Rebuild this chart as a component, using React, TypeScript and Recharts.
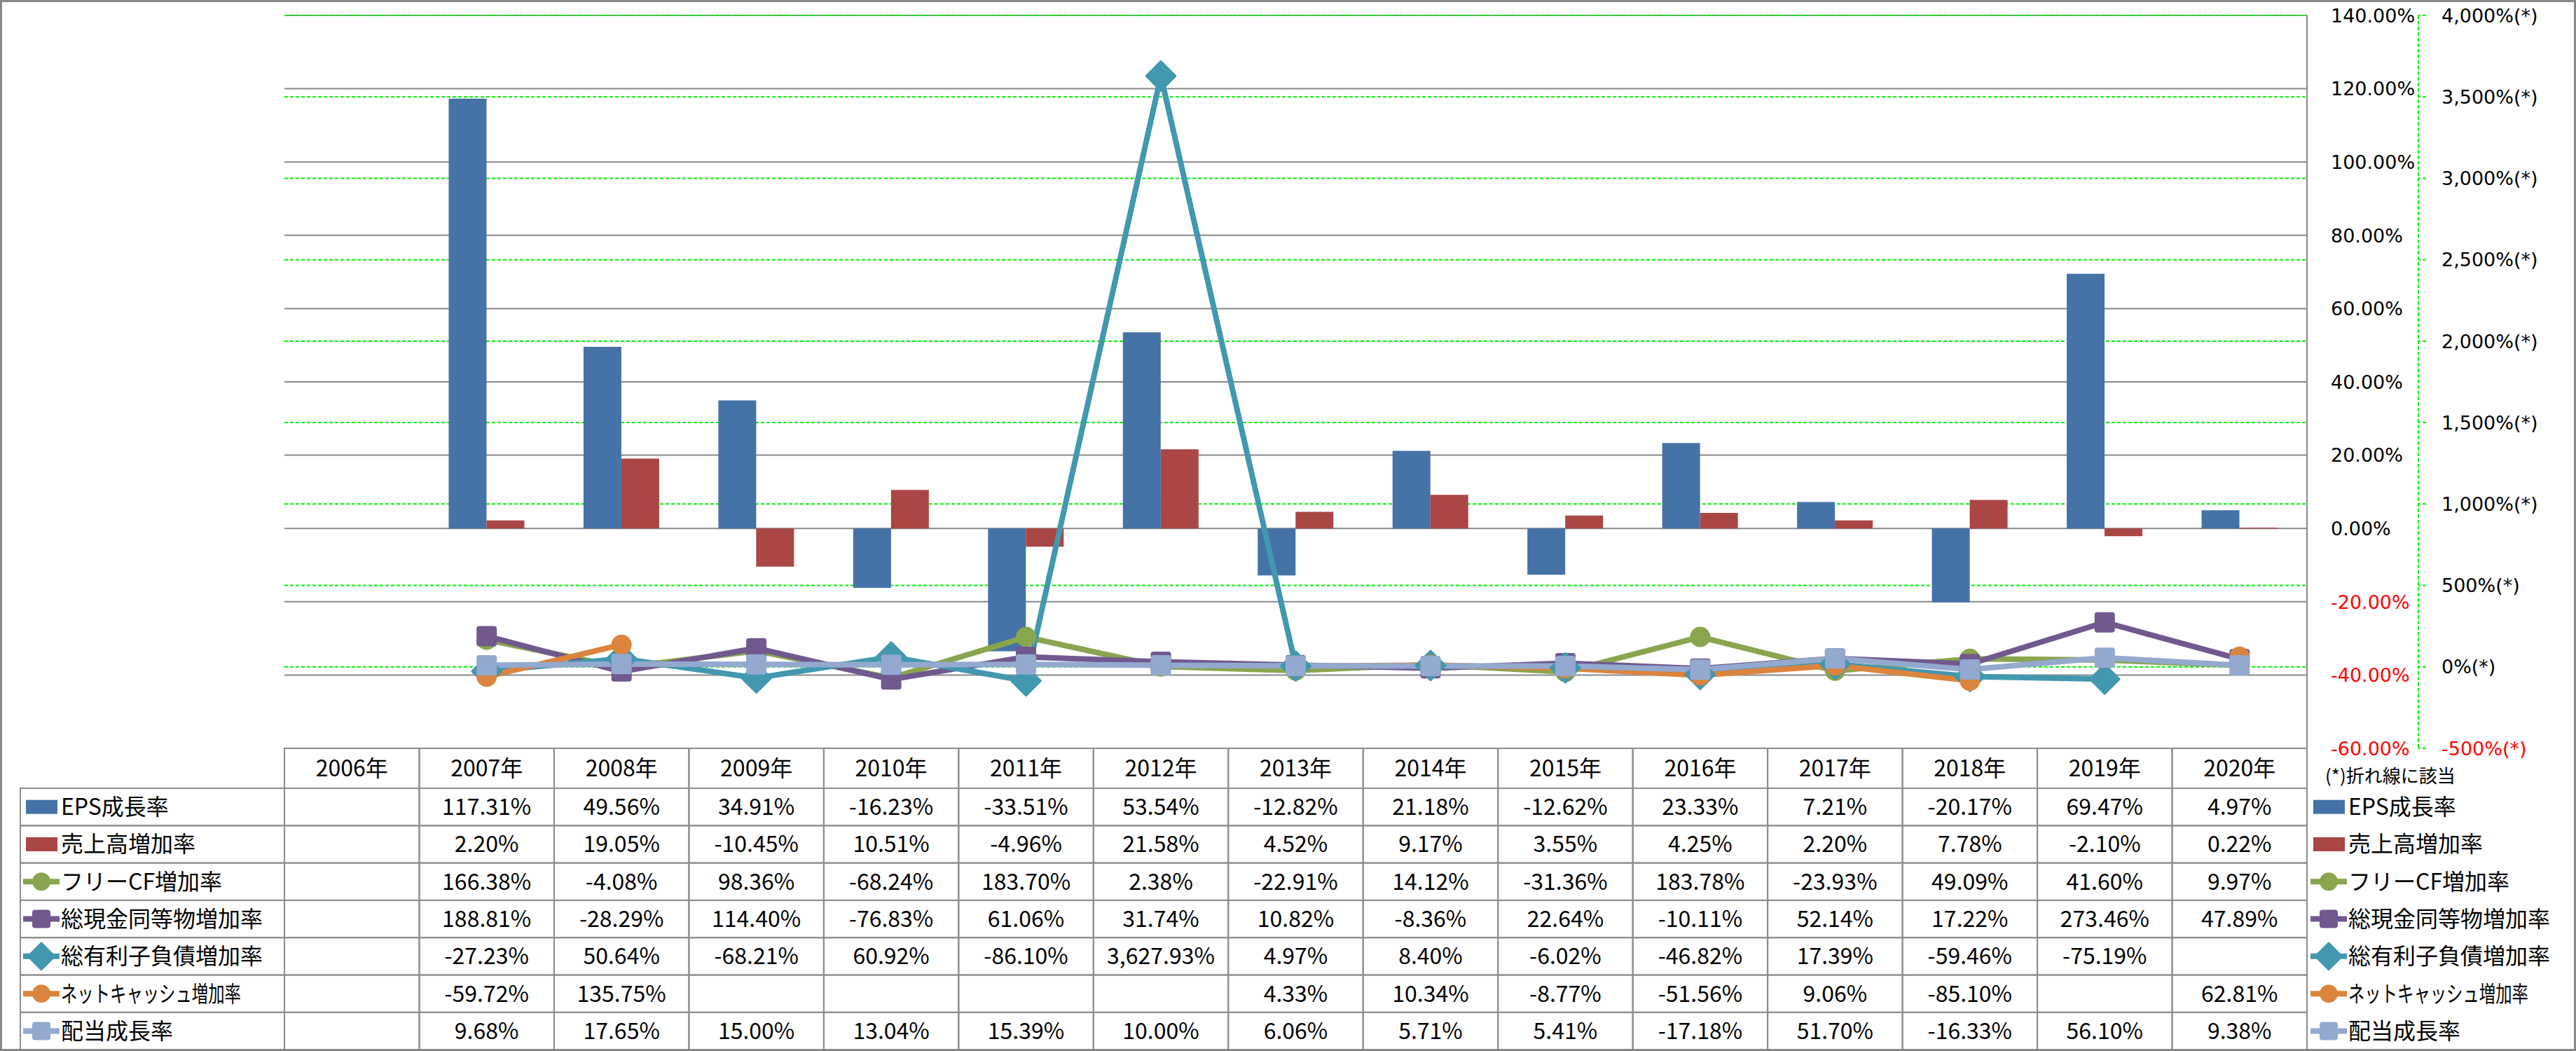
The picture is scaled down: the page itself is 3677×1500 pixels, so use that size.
import React from 'react';
import { ComposedChart, Bar, Line, XAxis, YAxis, CartesianGrid } from 'recharts';

const years = ['2006年', '2007年', '2008年', '2009年', '2010年', '2011年', '2012年', '2013年', '2014年', '2015年', '2016年', '2017年', '2018年', '2019年', '2020年'];

const epsGrowth = [null, 117.31, 49.56, 34.91, -16.23, -33.51, 53.54, -12.82, 21.18, -12.62, 23.33, 7.21, -20.17, 69.47, 4.97];
const salesGrowth = [null, 2.2, 19.05, -10.45, 10.51, -4.96, 21.58, 4.52, 9.17, 3.55, 4.25, 2.2, 7.78, -2.1, 0.22];
const freeCfGrowth = [null, 166.38, -4.08, 98.36, -68.24, 183.7, 2.38, -22.91, 14.12, -31.36, 183.78, -23.93, 49.09, 41.6, 9.97];
const cashGrowth = [null, 188.81, -28.29, 114.4, -76.83, 61.06, 31.74, 10.82, -8.36, 22.64, -10.11, 52.14, 17.22, 273.46, 47.89];
const debtGrowth = [null, -27.23, 50.64, -68.21, 60.92, -86.1, 3627.93, 4.97, 8.4, -6.02, -46.82, 17.39, -59.46, -75.19, null];
const netCashGrowth = [null, -59.72, 135.75, null, null, null, null, 4.33, 10.34, -8.77, -51.56, 9.06, -85.1, null, 62.81];
const dividendGrowth = [null, 9.68, 17.65, 15.0, 13.04, 15.39, 10.0, 6.06, 5.71, 5.41, -17.18, 51.7, -16.33, 56.1, 9.38];

const barTicks = [-60, -40, -20, 0, 20, 40, 60, 80, 100, 120, 140];
const lineTicks = [-500, 0, 500, 1000, 1500, 2000, 2500, 3000, 3500, 4000];

// squeeze: the katakana label is set narrow in the source
const series = [
  { key: 'eps', name: 'EPS成長率', color: '#4572A7', kind: 'bar', values: epsGrowth },
  { key: 'sales', name: '売上高増加率', color: '#AA4643', kind: 'bar', values: salesGrowth },
  { key: 'fcf', name: 'フリーCF増加率', color: '#89A54E', kind: 'circle', values: freeCfGrowth },
  { key: 'cash', name: '総現金同等物増加率', color: '#71588F', kind: 'square', values: cashGrowth },
  { key: 'debt', name: '総有利子負債増加率', color: '#4198AF', kind: 'diamond', values: debtGrowth },
  { key: 'net', name: 'ネットキャッシュ増加率', color: '#DB843D', kind: 'circle', values: netCashGrowth, squeeze: 0.73 },
  { key: 'div', name: '配当成長率', color: '#93A9CF', kind: 'square', values: dividendGrowth },
];

const data = years.map((year, i) => {
  const row: any = { year };
  series.forEach((s) => { row[s.key] = s.values[i]; });
  return row;
});

const W = 3677;
const H = 1500;
const PLOT_LEFT = 406;
const PLOT_RIGHT = 3293;
const COL_W = (PLOT_RIGHT - PLOT_LEFT) / years.length;
const HEADER_H = 57;
const ROW_H = 53.3;
const TABLE_FONT = '"Noto Sans CJK JP", "Liberation Sans", sans-serif';
const AXIS_FONT = '"DejaVu Sans", sans-serif';
const BORDER = '#8c8c8c';

const fmtPct = (v: number) =>
  v.toLocaleString('en-US', { minimumFractionDigits: 2, maximumFractionDigits: 2 }) + '%';

function Marker({ kind, color, cx, cy, size }: any) {
  if (kind === 'circle') return <circle cx={cx} cy={cy} r={size / 2} fill={color} />;
  if (kind === 'square')
    return <rect x={cx - size / 2} y={cy - size / 2} width={size} height={size} rx={4} fill={color} />;
  const d = size * 0.72;
  return (
    <path
      d={`M${cx},${cy - d} L${cx + d},${cy} L${cx},${cy + d} L${cx - d},${cy} Z`}
      fill={color}
      stroke={color}
      strokeWidth={3}
      strokeLinejoin="round"
    />
  );
}

const makeDot = (kind: string, color: string) => (props: any) => {
  const { cx, cy, value, index } = props;
  if (cx == null || cy == null || value == null) return <g key={`d-${index}`} />;
  return (
    <g key={`d-${index}`}>
      <Marker kind={kind} color={color} cx={cx} cy={cy} size={29} />
    </g>
  );
};

function LegendKey({ s, cx, cy }: any) {
  if (s.kind === 'bar') return <rect x={cx - 22} y={cy - 10} width={45} height={20} fill={s.color} />;
  return (
    <g>
      <line x1={cx - 26} y1={cy} x2={cx + 26} y2={cy} stroke={s.color} strokeWidth={8} />
      <Marker kind={s.kind} color={s.color} cx={cx} cy={cy} size={26} />
    </g>
  );
}

function Label({ s, x, y }: any) {
  return (
    <g transform={`translate(${x},${y}) scale(${s.squeeze || 1},1)`}>
      <text x={0} y={0} dy="0.36em">{s.name}</text>
    </g>
  );
}

const TableTick = (props: any) => {
  const { x, y, index, payload } = props;
  const left = x - COL_W / 2;
  const last = index === years.length - 1;
  return (
    <g fontFamily={TABLE_FONT} fontSize={32} fill="#000">
      <rect x={left} y={y} width={COL_W} height={HEADER_H} fill="none" stroke={BORDER} strokeWidth={2} />
      <text x={x} y={y + HEADER_H / 2} dy="0.36em" textAnchor="middle">{payload.value}</text>
      {series.map((s, r) => {
        const top = y + HEADER_H + r * ROW_H;
        const v = s.values[index];
        return (
          <g key={s.key}>
            <rect x={left} y={top} width={COL_W} height={ROW_H} fill="none" stroke={BORDER} strokeWidth={2} />
            {v != null && (
              <text x={x} y={top + ROW_H / 2} dy="0.36em" textAnchor="middle">{fmtPct(v)}</text>
            )}
            {index === 0 && (
              <g>
                <rect x={29} y={top} width={left - 29} height={ROW_H} fill="none" stroke={BORDER} strokeWidth={2} />
                <LegendKey s={s} cx={59} cy={top + ROW_H / 2} />
                <Label s={s} x={87} y={top + ROW_H / 2} />
              </g>
            )}
            {last && (
              <g>
                <LegendKey s={s} cx={3324} cy={top + ROW_H / 2} />
                <Label s={s} x={3352} y={top + ROW_H / 2} />
              </g>
            )}
          </g>
        );
      })}
      {last && (
        <text x={3319} y={y + 40} dy="0.36em" fontSize={26}>(*)折れ線に該当</text>
      )}
    </g>
  );
};

const BarAxisTick = (props: any) => {
  const { x, y, payload } = props;
  const v = payload.value;
  return (
    <text x={x} y={y} dy="0.36em" textAnchor="start" fontFamily={AXIS_FONT} fontSize={27} fill={v < 0 ? '#FF0000' : '#000'}>
      {v.toFixed(2) + '%'}
    </text>
  );
};

const LineAxisTick = (props: any) => {
  const { x, y, payload } = props;
  const v = payload.value;
  return (
    <text x={x} y={y} dy="0.36em" textAnchor="start" fontFamily={AXIS_FONT} fontSize={27} fill={v < 0 ? '#FF0000' : '#000'}>
      {v.toLocaleString('en-US') + '%(*)'}
    </text>
  );
};

export default function App() {
  return (
    <div style={{ position: 'relative', width: W, height: H, background: '#fff' }}>
      <style>{'body{margin:0}'}</style>
      <ComposedChart
        width={W}
        height={H}
        data={data}
        margin={{ top: 22, left: PLOT_LEFT, right: 25, bottom: 2 }}
        barGap={0}
      >
        <CartesianGrid yAxisId="bar" vertical={false} stroke="#888" strokeWidth={2} />
        <CartesianGrid yAxisId="line" vertical={false} stroke="#00ee00" strokeWidth={2} strokeDasharray="5 3" />
        <XAxis
          dataKey="year"
          height={430}
          interval={0}
          axisLine={false}
          tickLine={false}
          tickSize={0}
          tickMargin={0}
          tick={<TableTick />}
        />
        <YAxis
          yAxisId="bar"
          orientation="right"
          domain={[-60, 140]}
          ticks={barTicks}
          width={159}
          axisLine={{ stroke: '#888', strokeWidth: 2 }}
          tickLine={false}
          tickSize={0}
          tickMargin={34}
          tick={<BarAxisTick />}
          allowDataOverflow
        />
        <YAxis
          yAxisId="line"
          orientation="right"
          domain={[-500, 4000]}
          ticks={lineTicks}
          width={200}
          axisLine={{ stroke: '#00ee00', strokeWidth: 2, strokeDasharray: '5 3' }}
          tickLine={{ stroke: '#00ee00', strokeWidth: 2, strokeDasharray: '5 3' }}
          tickSize={11}
          tickMargin={22}
          tick={<LineAxisTick />}
          allowDataOverflow
        />
        <Bar yAxisId="bar" dataKey="eps" fill="#4572A7" barSize={54} isAnimationActive={false} />
        <Bar yAxisId="bar" dataKey="sales" fill="#AA4643" barSize={54} isAnimationActive={false} />
        {series.filter((s) => s.kind !== 'bar').map((s) => (
          <Line
            key={s.key}
            yAxisId="line"
            dataKey={s.key}
            type="linear"
            stroke={s.color}
            strokeWidth={8}
            dot={makeDot(s.kind, s.color)}
            activeDot={false}
            connectNulls={false}
            isAnimationActive={false}
          />
        ))}
      </ComposedChart>
      <div
        style={{
          position: 'absolute', left: 0, top: 0, width: W, height: H,
          border: '3px solid #888', boxSizing: 'border-box', pointerEvents: 'none',
        }}
      />
    </div>
  );
}
